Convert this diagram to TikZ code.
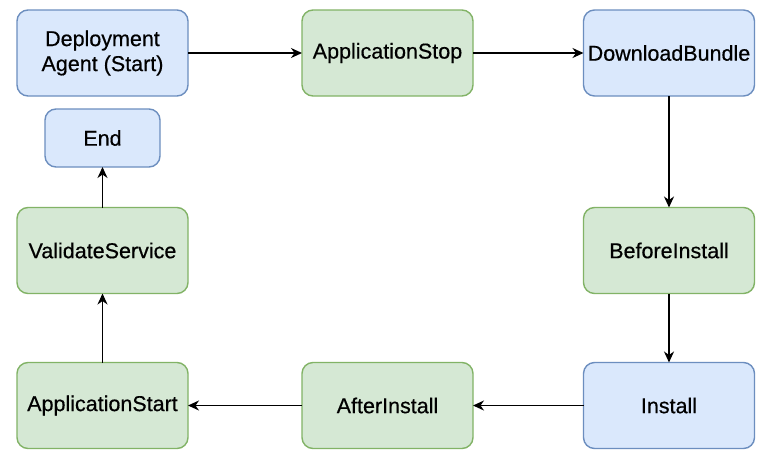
\documentclass[tikz,border=0pt]{standalone}
\usepackage{fontspec}
\setmainfont{Liberation Sans}[FakeBold=0.5]
\usetikzlibrary{arrows.meta}
\definecolor{bluefill}{HTML}{DAE8FC}
\definecolor{bluedraw}{HTML}{6C8EBF}
\definecolor{greenfill}{HTML}{D5E8D4}
\definecolor{greendraw}{HTML}{82B366}
\begin{document}
\begin{tikzpicture}[x=1pt,y=-1pt,
  box/.style={rounded corners=11pt, line width=1.4pt, minimum width=171pt, minimum height=86pt,
    inner sep=0pt, outer sep=0pt, align=center, font=\fontsize{21.5}{25}\selectfont},
  bluebox/.style={box, fill=bluefill, draw=bluedraw},
  greenbox/.style={box, fill=greenfill, draw=greendraw},
  flow/.style={line width=1.6pt, -{Stealth[length=11pt,width=10pt,inset=3.5pt]}}]
\useasboundingbox[fill=white] (0,0) rectangle (770,458);
% top row
\node[bluebox] (start) at (102.5,53) {Deployment\\Agent (Start)};
\node[greenbox] (stop) at (387.5,53) {ApplicationStop};
\node[bluebox] (dl) at (669,53) {DownloadBundle};
% left column
\node[bluebox, minimum width=115pt, minimum height=58pt] (end) at (102.5,138) {End};
\node[greenbox] (vs) at (102.5,250.5) {ValidateService};
% right column
\node[greenbox] (bi) at (669,250.5) {BeforeInstall};
% bottom row
\node[greenbox] (as) at (102.5,405.5) {ApplicationStart};
\node[greenbox] (ai) at (387.5,405.5) {AfterInstall};
\node[bluebox] (inst) at (669,405.5) {Install};
% lifecycle sequence
\draw[flow] (start) -- (stop);
\draw[flow] (stop) -- (dl);
\draw[flow] (dl) -- (bi);
\draw[flow] (bi) -- (inst);
\draw[flow] (inst) -- (ai);
\draw[flow] (ai) -- (as);
\draw[flow] (as) -- (vs);
\draw[flow] (vs) -- (end);
\end{tikzpicture}
\end{document}
